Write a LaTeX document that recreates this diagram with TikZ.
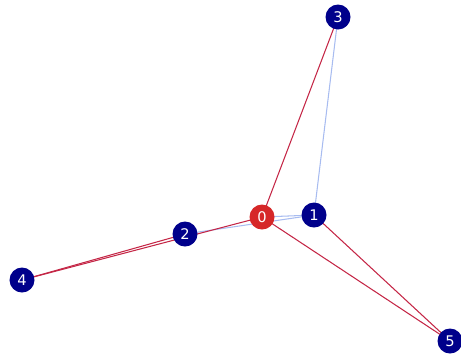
\documentclass[tikz,border=0pt]{standalone}
\usepackage{fontspec}
\setsansfont{DejaVu Sans}
\usepackage{tikz}
\usetikzlibrary{backgrounds}
\definecolor{nodeblue}{RGB}{0,0,139}
\definecolor{nodered}{RGB}{214,39,40}
\definecolor{edgered}{RGB}{196,38,70}
\definecolor{edgeblue}{RGB}{168,188,240}
\tikzset{
  vert/.style={circle, fill=nodeblue, minimum size=0.75cm, inner sep=0pt,
    text=white, font=\sffamily\fontsize{12.5}{12.5}\selectfont},
  hub/.style={vert, fill=nodered},
  redge/.style={draw=edgered, line width=0.9pt},
  bedge/.style={draw=edgeblue, line width=0.9pt}
}

\begin{document}
\begin{tikzpicture}[x=0.03cm, y=-0.03cm]
    \useasboundingbox (0,0) rectangle (461,356);

    % Vertices
    \node[hub]  (v0) at (262,217) {0};
    \node[vert] (v1) at (314,215) {1};
    \node[vert] (v2) at (185,234) {2};
    \node[vert] (v3) at (338,17)  {3};
    \node[vert] (v4) at (22,280)  {4};
    \node[vert] (v5) at (450,341) {5};

    % Edges behind the vertices
    \begin{pgfonlayer}{background}
      \draw[bedge] (v3.center) -- (v1.center);
      \draw[bedge] (v0.center) -- (v1.center);
      \draw[bedge] (v2.center) -- (v1.center);
      \draw[redge] (v0.center) -- (v3.center);
      \draw[redge] (v0.center) -- (v5.center);
      \draw[redge] (v1.center) -- (v5.center);
      \draw[redge] (v4.center) -- (v2.center);
      \draw[redge] (v4.center) -- (v0.center);
    \end{pgfonlayer}
  \end{tikzpicture}
\end{document}
